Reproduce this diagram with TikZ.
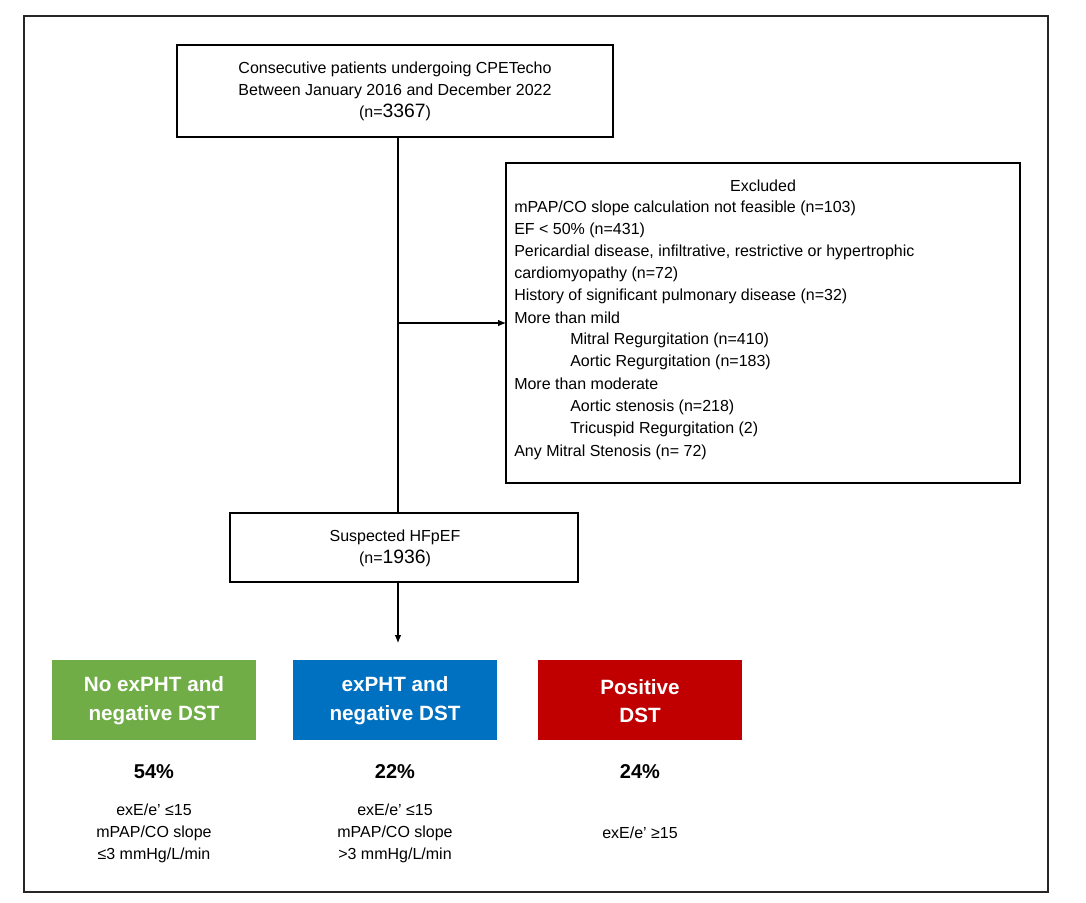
\documentclass[tikz,border=0pt]{standalone}
\usepackage{fontspec}
\usetikzlibrary{arrows.meta}
\setmainfont{Liberation Sans}
\begin{document}
\begin{tikzpicture}[x=0.75pt,y=-0.75pt,
  box/.style={draw=black,line width=0.8pt},
  txt/.style={font=\fontsize{12}{16.5}\selectfont,align=center,inner sep=0},
  col/.style={font=\fontsize{15.5}{21.5}\selectfont\bfseries,text=white,align=center,inner sep=0},
  pct/.style={font=\fontsize{15}{18}\selectfont\bfseries,inner sep=0},
  arr/.style={-{Latex[length=6pt,width=5pt]},line width=0.8pt}]
\useasboundingbox (0,0) rectangle (1086,903);
\fill[white] (0,0) rectangle (1086,903);
\draw[line width=1.6pt,color=black!85] (24,16) rectangle (1048,892);
% top box
\draw[box] (177,45) rectangle (613,137);
\node[txt] (top) at (395,91) {Consecutive patients undergoing CPETecho\\Between January 2016 and December 2022\\(n=\fontsize{14.5}{16}\selectfont 3367\fontsize{12}{16.5}\selectfont)};
\coordinate (tb) at (398,137);
% excluded box
\draw[box] (506,163) rectangle (1020,483);
\coordinate (exl) at (506,323);
\node[txt] at (763,186) {Excluded};
\foreach \t [count=\i] in {mPAP/CO slope calculation not feasible (n=103),EF < 50\% (n=431),{Pericardial disease, infiltrative,  restrictive or hypertrophic},cardiomyopathy (n=72),History of significant pulmonary  disease (n=32),More than mild}
  \node[txt,anchor=west] at (514,186+22*\i) {\t};
\node[txt,anchor=west] at (570,340) {Mitral Regurgitation  (n=410)};
\node[txt,anchor=west] at (570,362) {Aortic Regurgitation (n=183)};
\node[txt,anchor=west] at (514,384) {More than moderate};
\node[txt,anchor=west] at (570,407) {Aortic stenosis (n=218)};
\node[txt,anchor=west] at (570,429) {Tricuspid Regurgitation (2)};
\node[txt,anchor=west] at (514,452) {Any Mitral Stenosis (n= 72)};
% suspected
\draw[box] (230,513) rectangle (578,582);
\node[txt] (sus) at (395,548) {Suspected HFpEF\\(n=\fontsize{14.5}{16}\selectfont 1936\fontsize{12}{16.5}\selectfont)};
\coordinate (st) at (398,513);
\coordinate (sb) at (398,582);
\coordinate (br) at (398,323);
\coordinate (cb) at (398,643);
\draw[line width=0.8pt] (tb) -- (st);
\draw[arr] (br) -- (exl);
\draw[arr] (sb) -- (cb);
% colored boxes
\fill[color={rgb,255:red,112;green,173;blue,71}] (52,660) rectangle (256,740);
\fill[color={rgb,255:red,0;green,112;blue,192}] (293,660) rectangle (497,740);
\fill[color={rgb,255:red,192;green,0;blue,0}] (538,660) rectangle (742,740);
\node[col] (g) at (154,701) {No exPHT and\\negative DST};
\node[col] (b) at (395,701) {exPHT and\\negative DST};
\node[col] (r) at (640,701) {Positive\\DST};
\node[pct] at (154,772) {54\%};
\node[pct] at (395,772) {22\%};
\node[pct] at (640,772) {24\%};
\node[txt] at (154,833) {exE/e’ ≤15\\mPAP/CO slope\\≤3 mmHg/L/min};
\node[txt] at (395,833) {exE/e’ ≤15\\mPAP/CO slope\\>3 mmHg/L/min};
\node[txt] at (640,833) {exE/e’ ≥15};
\end{tikzpicture}
\end{document}
